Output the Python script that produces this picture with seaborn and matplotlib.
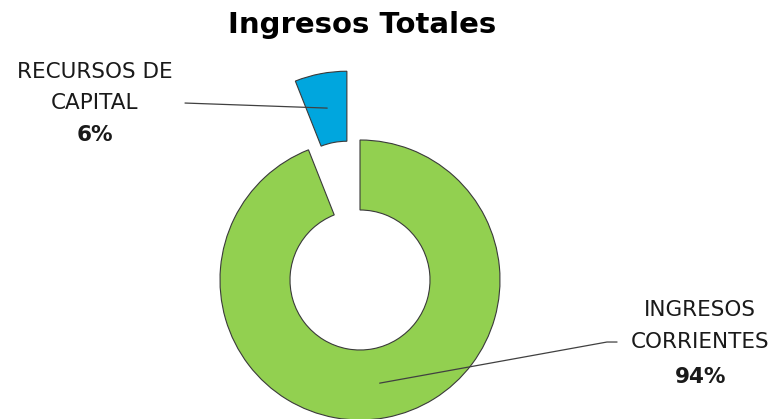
import numpy as np
import matplotlib
matplotlib.use("Agg")
import matplotlib.pyplot as plt
import seaborn as sns

# data
labels_top = ["INGRESOS", "RECURSOS DE"]
labels_bottom = ["CORRIENTES", "CAPITAL"]
shares = [94, 6]
colors = ["#92D050", "#00A6DE"]
explode = [0, 0.5]

sns.set_theme(style="white")
plt.rcParams["font.family"] = ["DejaVu Sans"]

fig = plt.figure(figsize=(7.77, 4.19), dpi=100)
ax = fig.add_axes([0, 0, 1, 1])

wedges, _ = ax.pie(shares, colors=colors, explode=explode, startangle=90,
                   counterclock=False, radius=1,
                   wedgeprops=dict(width=0.5, edgecolor="#3a3a3a", linewidth=0.8))

# keep the pie where it sits in the reference (140 px per unit)
ax.set_xlim(-360 / 140, 417 / 140)
ax.set_ylim(-139 / 140, 280 / 140)
ax.set_aspect("equal")
ax.axis("off")


def anchor(w, ex):
    mid = np.deg2rad((w.theta1 + w.theta2) / 2)
    r = 0.75 + ex
    return r * np.cos(mid), r * np.sin(mid)


line_kw = dict(color="#404040", lw=0.9)
txt_kw = dict(ha="center", va="center", fontsize=15.5, color="#1a1a1a")

# green label
gx, gy = anchor(wedges[0], explode[0])
ax.plot([gx, 1.764, 1.836], [gy, -0.443, -0.443], **line_kw)
ax.text(2.43, -0.214, labels_top[0], **txt_kw)
ax.text(2.43, -0.443, labels_bottom[0], **txt_kw)
ax.text(2.43, -0.693, f"{shares[0]}%", fontweight="bold", **txt_kw)

# blue label
bx, by = anchor(wedges[1], explode[1])
ax.plot([-1.25, bx], [1.264, by], **line_kw)
ax.text(-1.893, 1.486, labels_top[1], **txt_kw)
ax.text(-1.893, 1.264, labels_bottom[1], **txt_kw)
ax.text(-1.893, 1.036, f"{shares[1]}%", fontweight="bold", **txt_kw)

fig.text(362 / 777, 1 - 25 / 419, "Ingresos Totales", ha="center", va="center",
         fontsize=21, fontweight="bold", color="black")

fig.savefig("out.png", dpi=100)
